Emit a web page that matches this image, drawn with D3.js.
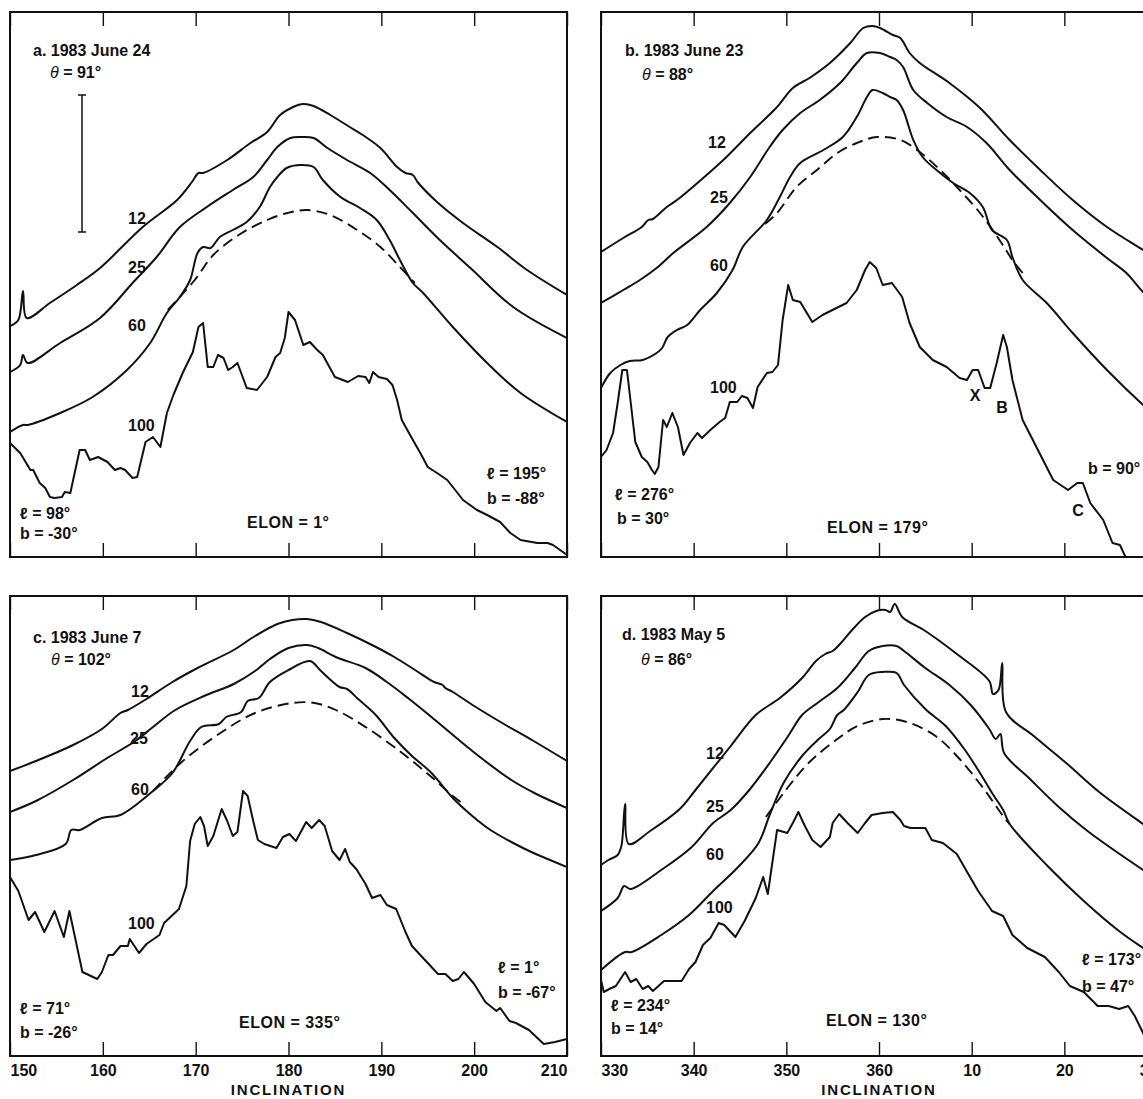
<!DOCTYPE html>
<html>
<head>
<meta charset="utf-8">
<script src="https://cdn.jsdelivr.net/npm/d3@7"></script>
<style>
  body { margin: 0; background: #fff; }
  svg { display: block; }
  text { font-family: "Liberation Sans", Arial, Helvetica, sans-serif; font-weight: bold; fill: #111; font-size: 16px; }
</style>
</head>
<body>
<div id="chart"></div>
<script>
// ---- data: [inclination (deg), relative brightness] ----
const a12 = [[150.0,231],[150.9,237],[151.4,266],[151.8,239],[154.3,254],[157.2,272],[159.7,289],[164.3,330],[168.0,357],[169.6,375],[170.3,384],[170.8,384],[173.4,397],[175.9,414],[177.7,425],[179.1,442],[180.5,450],[181.6,453],[182.7,451],[184.5,442],[186.6,430],[188.0,422],[189.9,409],[191.7,390],[192.6,384],[193.4,382],[193.9,375],[196.0,355],[198.8,334],[202.5,310],[205.7,287],[210.0,262]]
const a25 = [[150.0,185],[151.1,192],[151.4,202],[151.9,194],[155.4,214],[159.7,239],[163.3,275],[165.8,300],[168.3,330],[171.2,350],[174.0,367],[176.2,380],[177.7,397],[178.8,410],[180.2,419],[181.3,420],[182.7,419],[184.2,409],[186.3,397],[188.8,384],[190.9,367],[193.4,344],[196.3,317],[199.6,289],[204.2,250],[210.0,219]]
const a60 = [[150.0,125],[151.4,132],[151.9,132],[155.4,144],[158.9,160],[162.6,187],[165.1,214],[166.9,244],[168.3,260],[169.4,277],[170.2,304],[170.8,310],[171.6,309],[172.6,320],[174.0,327],[175.5,335],[176.9,350],[178.0,370],[178.8,380],[179.8,389],[181.3,392],[182.7,390],[183.7,377],[185.6,360],[187.7,349],[189.5,337],[190.9,317],[192.0,297],[193.4,274],[194.5,264],[197.7,230],[201.4,194],[205.0,164],[210.0,135]]
const aModel = [[167.0,247],[169.9,277],[171.9,302],[174.8,323],[177.7,337],[179.9,344],[182.0,347],[184.5,342],[187.4,327],[189.9,310],[192.0,290],[193.6,274]]
const a100 = [[150.0,114],[151.1,104],[152.2,87],[152.5,87],[153.2,74],[153.8,69],[154.3,60],[154.8,59],[155.6,60],[155.9,65],[156.5,64],[157.5,107],[158.1,107],[158.6,97],[159.5,100],[160.5,95],[161.3,87],[161.9,89],[162.4,87],[163.2,79],[163.7,80],[164.6,115],[165.4,120],[166.2,110],[166.9,144],[167.6,162],[168.6,184],[169.7,205],[170.3,230],[170.8,234],[171.3,190],[171.9,190],[172.4,202],[173.0,199],[173.5,187],[174.0,190],[174.5,194],[175.5,169],[176.6,167],[177.7,180],[178.6,200],[179.1,204],[179.6,219],[180.0,245],[180.7,237],[181.6,212],[182.3,215],[183.1,207],[183.7,202],[185.0,180],[186.4,175],[187.5,181],[188.3,180],[188.7,174],[189.1,185],[189.7,180],[190.6,178],[191.2,172],[191.7,157],[192.2,137],[193.4,117],[194.2,104],[195.0,90],[196.0,84],[197.1,77],[197.7,70],[198.8,57],[200.3,47],[201.4,42],[202.8,35],[203.9,24],[205.0,17],[206.8,14],[207.9,14],[208.5,12],[210.0,2]]

const b12 = [[330.0,305],[332.4,319],[334.4,330],[335.1,337],[335.6,338],[337.1,350],[338.2,357],[340.4,374],[343.2,397],[346.1,424],[349.0,450],[350.7,469],[352.5,479],[354.7,494],[356.9,514],[358.3,529],[359.3,531],[360.1,529],[361.5,522],[362.3,519],[363.3,504],[364.4,494],[367.6,474],[370.9,449],[374.1,417],[377.4,387],[380.9,357],[384.6,330],[388.5,307],[390.0,298]]
const b25 = [[330.0,254],[332.4,267],[334.2,277],[336.0,289],[337.8,304],[341.4,330],[343.9,354],[346.1,380],[348.2,410],[349.6,427],[351.5,444],[353.6,457],[355.8,474],[357.6,494],[358.7,504],[360.1,504],[361.2,500],[361.9,497],[362.6,490],[363.7,467],[365.2,454],[367.3,440],[369.5,430],[371.6,414],[374.1,387],[377.4,357],[380.9,327],[384.6,299],[386.7,284],[388.5,265],[390.0,255]]
const b60 = [[330.0,169],[331.0,184],[332.1,192],[333.1,196],[334.5,197],[336.0,204],[336.6,209],[337.2,220],[338.2,227],[339.3,232],[340.7,247],[342.5,264],[344.2,287],[345.3,310],[347.9,337],[349.3,360],[350.4,380],[351.5,394],[354.0,407],[356.1,420],[357.6,440],[358.7,460],[359.3,467],[360.4,464],[361.2,460],[361.9,457],[362.6,447],[363.7,417],[364.7,400],[366.6,384],[368.0,374],[369.8,364],[371.2,350],[372.2,327],[373.8,317],[374.4,300],[375.5,277],[378.1,254],[380.9,224],[384.6,187],[388.5,152],[390.0,140]]
const bModel = [[347.7,333],[349.0,344],[351.1,370],[353.3,387],[355.5,404],[357.6,414],[359.8,420],[362.3,417],[364.4,405],[366.6,387],[368.7,367],[370.9,344],[373.0,317],[374.4,297],[375.5,284]]
const b100 = [[330.0,100],[330.6,107],[331.3,124],[331.8,154],[332.3,187],[332.8,187],[333.3,147],[333.7,115],[334.4,100],[335.0,95],[335.5,87],[335.8,83],[336.2,90],[336.7,137],[337.1,130],[337.7,144],[338.3,130],[338.9,102],[339.6,114],[340.4,124],[340.9,119],[341.8,127],[342.8,135],[343.4,139],[343.9,155],[344.7,155],[345.2,161],[345.8,159],[346.4,149],[346.9,170],[347.9,184],[348.5,185],[349.1,192],[349.6,237],[350.2,272],[350.7,257],[351.5,255],[352.8,235],[353.9,242],[356.5,254],[357.6,267],[358.5,287],[359.0,295],[359.7,289],[360.4,272],[361.4,274],[362.5,260],[363.3,234],[364.4,210],[365.8,197],[367.3,190],[368.7,179],[369.5,177],[370.1,187],[370.7,187],[371.4,169],[372.0,169],[372.7,194],[373.4,222],[373.8,210],[374.4,177],[375.5,137],[376.6,117],[377.7,97],[378.8,77],[380.4,67],[381.4,74],[382.0,74],[382.8,54],[384.2,37],[385.2,14],[386.0,12],[386.6,0]]

const c12 = [[150.0,285],[152.8,295],[156.8,311],[159.9,327],[161.9,343],[162.7,346],[164.7,357],[167.5,374],[170.2,388],[174.1,406],[176.4,420],[178.8,432],[180.4,436],[182.0,437],[183.5,434],[186.3,423],[189.0,411],[191.4,399],[193.8,385],[195.7,374],[196.6,371],[196.9,368],[197.7,364],[200.0,350],[203.2,332],[206.4,315],[210.0,295]]
const c25 = [[150.0,244],[152.8,255],[156.8,276],[160.3,297],[163.5,315],[165.4,329],[167.8,346],[170.9,360],[174.1,372],[176.4,385],[178.0,397],[180.0,408],[182.0,411],[183.2,408],[185.1,399],[188.3,388],[190.6,374],[193.0,357],[195.4,339],[198.1,318],[200.9,297],[204.0,276],[206.7,262],[210.0,248]]
const c60 = [[150.0,196],[152.8,201],[156.0,212],[156.6,226],[157.5,226],[159.9,238],[161.9,241],[165.4,265],[167.5,283],[169.4,315],[170.6,329],[172.5,332],[173.3,339],[174.9,344],[175.6,355],[176.8,358],[178.0,374],[180.0,386],[182.3,395],[183.5,385],[185.5,369],[186.3,367],[187.5,357],[189.4,341],[191.4,318],[193.3,300],[195.4,283],[197.7,258],[199.8,240],[201.6,227],[204.0,214],[206.4,203],[210.0,189]]
const cModel = [[165.4,265],[168.5,294],[172.5,322],[176.4,343],[180.4,353],[182.8,353],[185.1,346],[188.3,329],[192.1,304],[195.4,279],[197.7,260],[198.7,253]]
const c100 = [[150.0,179],[150.9,165],[152.0,136],[152.7,144],[153.7,124],[154.8,145],[155.8,119],[156.4,145],[157.8,84],[159.4,77],[159.9,84],[160.6,101],[161.1,101],[161.9,110],[162.7,110],[162.9,117],[163.9,103],[164.7,112],[166.1,121],[166.6,133],[168.2,147],[169.0,170],[169.4,215],[169.9,232],[170.5,239],[170.9,230],[171.3,210],[171.9,220],[172.8,247],[173.4,235],[174.0,220],[174.5,224],[175.1,265],[175.6,260],[176.2,235],[176.7,216],[177.4,212],[178.7,208],[179.4,219],[180.1,222],[180.8,215],[181.9,234],[182.5,228],[183.3,236],[183.9,230],[184.7,205],[185.5,196],[186.1,207],[186.6,194],[187.3,187],[188.3,172],[189.0,158],[189.9,161],[190.6,151],[191.6,147],[192.6,124],[193.3,110],[194.9,94],[196.1,82],[196.9,82],[197.7,75],[198.3,77],[198.9,84],[200.0,72],[201.2,54],[202.4,45],[202.8,48],[203.8,35],[204.5,33],[205.9,26],[207.5,12],[208.7,14],[210.0,17]]

const d12 = [[330.0,191],[330.8,196],[331.8,201],[332.2,210],[332.6,252],[333.0,212],[335.3,225],[338.5,247],[340.2,266],[344.0,310],[346.7,341],[349.3,358],[351.7,378],[353.2,395],[354.2,402],[355.0,405],[355.8,412],[357.0,425],[358.5,439],[359.7,445],[360.7,446],[361.2,444],[361.7,452],[362.5,439],[365.0,425],[368.4,402],[371.9,375],[372.3,362],[372.9,366],[373.3,393],[373.7,344],[376.7,320],[380.2,293],[383.9,263],[388.5,232],[390.0,222]]
const d25 = [[330.0,145],[331.8,158],[332.5,170],[333.2,167],[336.5,186],[339.8,209],[342.1,233],[344.0,246],[346.0,266],[348.2,293],[350.2,320],[351.7,341],[353.5,354],[355.5,368],[357.4,388],[358.9,405],[360.4,410],[361.9,410],[362.7,405],[365.0,388],[367.6,371],[369.9,351],[371.9,327],[372.6,317],[373.1,322],[373.5,303],[376.4,276],[379.4,249],[382.5,225],[388.5,186],[390.0,177]]
const d60 = [[330.0,86],[332.6,104],[333.3,104],[336.5,121],[339.5,141],[342.1,165],[344.8,189],[347.0,213],[348.2,241],[349.7,273],[351.7,300],[353.5,317],[354.7,327],[355.5,341],[356.2,346],[357.7,364],[358.9,381],[360.4,384],[361.9,383],[362.7,371],[365.0,347],[367.2,330],[369.2,307],[370.7,286],[372.2,263],[373.4,246],[374.1,232],[378.3,189],[382.1,155],[385.9,125],[388.5,108],[390.0,99]]
const dModel = [[347.8,239],[350.2,269],[352.4,293],[355.5,317],[357.7,330],[360.4,337],[363.0,334],[366.1,320],[368.7,297],[371.4,266],[373.7,236],[374.1,232]]
const d100 = [[330.0,76],[330.3,64],[330.9,67],[331.6,70],[332.6,84],[333.2,74],[333.8,77],[334.5,67],[335.1,70],[335.6,65],[336.8,75],[338.7,75],[339.5,87],[340.2,94],[341.0,111],[341.8,118],[342.7,133],[343.3,131],[344.5,119],[345.5,135],[346.7,158],[347.5,179],[348.0,162],[349.0,226],[350.1,223],[350.7,233],[351.3,244],[352.0,230],[352.8,216],[353.7,209],[354.7,219],[355.0,233],[355.7,242],[356.6,233],[357.7,223],[358.5,233],[359.2,241],[360.4,243],[361.5,244],[362.3,236],[362.7,230],[363.4,228],[365.0,228],[365.7,216],[366.9,213],[368.4,202],[369.2,189],[370.7,165],[372.2,145],[373.4,140],[374.4,121],[376.0,108],[377.9,99],[379.4,84],[380.6,70],[382.1,64],[383.6,50],[384.8,50],[385.9,47],[386.9,50],[387.6,40],[388.5,23],[389.0,10]]

// ---- labels ----
const ticksLeft = [150, 160, 170, 180, 190, 200, 210]
const ticksRight = [330, 340, 350, 360, 370, 380, 390]
const tickLabelsLeft = ["150", "160", "170", "180", "190", "200", "210"]
const tickLabelsRight = ["330", "340", "350", "360", "10", "20", "30"]
const curveNames = ["12", "25", "60", "100"]
const titles = ["a. 1983 June 24", "b. 1983 June 23", "c. 1983 June 7", "d. 1983 May 5"]
const thetas = ["91°", "88°", "102°", "86°"]
const elons = ["1°", "179°", "335°", "130°"]
const lStart = ["98°", "276°", "71°", "234°"]
const bStart = ["-30°", "30°", "-26°", "14°"]
const lEnd = ["195°", null, "1°", "173°"]
const bEnd = ["-88°", "90°", "-67°", "47°"]
const marksB = ["X", "B", "C"]
const axisTitle = "INCLINATION"

// ---- layout ----
const W = 1143, H = 1099
const cols = [{ left: 10, right: 567 }, { left: 601, right: 1157 }]
const rows = [{ top: 12, bottom: 557, yMax: 545 }, { top: 596, bottom: 1056, yMax: 460 }]

// label offsets relative to each panel's top-left corner
const notes = [
  { title: [23, 38], theta: [40, 60], curve: [[118, 206], [118, 255], [118, 313], [118, 413]], lS: [10, 501], bS: [10, 521], elon: [237, 510], lE: [477, 461], bE: [477, 486] },
  { title: [24, 38], theta: [41, 62], curve: [[107, 130], [109, 185], [109, 253], [109, 375]], lS: [14, 482], bS: [16, 506], elon: [226, 515], lE: null, bE: [487, 456], marks: [[374, 383], [401, 395], [477, 498]] },
  { title: [23, 41], theta: [41, 63], curve: [[121, 95], [120, 142], [121, 193], [118, 327]], lS: [10, 412], bS: [10, 436], elon: [229, 426], lE: [488, 371], bE: [488, 396] },
  { title: [21, 38], theta: [40, 63], curve: [[105, 157], [105, 210], [105, 258], [105, 311]], lS: [10, 409], bS: [10, 432], elon: [225, 424], lE: [481, 363], bE: [481, 390] }
]

const panels = [
  { id: "a", col: 0, row: 0, domain: [150, 210], ticks: ticksLeft, labels: null, curves: [a12, a25, a60, a100], model: aModel, scaleBar: true },
  { id: "b", col: 1, row: 0, domain: [330, 390], ticks: ticksRight, labels: null, curves: [b12, b25, b60, b100], model: bModel },
  { id: "c", col: 0, row: 1, domain: [150, 210], ticks: ticksLeft, labels: tickLabelsLeft, curves: [c12, c25, c60, c100], model: cModel },
  { id: "d", col: 1, row: 1, domain: [330, 390], ticks: ticksRight, labels: tickLabelsRight, curves: [d12, d25, d60, d100], model: dModel }
]

const svg = d3.select("#chart").append("svg")
    .attr("width", W)
    .attr("height", H)

svg.append("rect").attr("width", W).attr("height", H).attr("fill", "#fff")

function Panel(p, i) {
    const c = cols[p.col], r = rows[p.row], n = notes[i]

    const xScale = d3.scaleLinear().domain(p.domain).range([c.left, c.right])
    const yScale = d3.scaleLinear().domain([0, r.yMax]).range([r.bottom, r.top])

    const g = svg.append("g").attr("class", "panel-" + p.id)

    g.append("clipPath")
        .attr("id", "clip-" + p.id)
        .append("rect")
        .attr("x", c.left).attr("y", r.top)
        .attr("width", c.right - c.left).attr("height", r.bottom - r.top)

    const plot = g.append("g").attr("clip-path", `url(#clip-${p.id})`)

    const smooth = d3.line()
        .x(d => xScale(d[0]))
        .y(d => yScale(d[1]))
        .curve(d3.curveCatmullRom.alpha(0.5))

    const rough = d3.line()
        .x(d => xScale(d[0]))
        .y(d => yScale(d[1]))

    plot.selectAll(".curve")
        .data(p.curves)
        .join("path")
        .attr("class", "curve")
        .attr("d", (d, k) => k === 3 ? rough(d) : smooth(d))
        .attr("fill", "none")
        .attr("stroke", "#111")
        .attr("stroke-width", 2)
        .attr("stroke-linejoin", "round")

    plot.append("path")
        .attr("d", smooth(p.model))
        .attr("fill", "none")
        .attr("stroke", "#111")
        .attr("stroke-width", 1.9)
        .attr("stroke-dasharray", "11,6")

    // frame
    g.append("rect")
        .attr("x", c.left).attr("y", r.top)
        .attr("width", c.right - c.left).attr("height", r.bottom - r.top)
        .attr("fill", "none")
        .attr("stroke", "#111")
        .attr("stroke-width", 2)

    // inward ticks top and bottom
    const topAxis = d3.axisTop(xScale).tickValues(p.ticks).tickSizeInner(-14).tickSizeOuter(0).tickFormat("")
    const botAxis = d3.axisBottom(xScale).tickValues(p.ticks).tickSizeInner(-14).tickSizeOuter(0).tickPadding(9)
        .tickFormat((d, k) => p.labels ? p.labels[k] : "")

    g.append("g").attr("transform", `translate(0,${r.top})`).call(topAxis)
        .call(s => s.select(".domain").remove())
    const xGroup = g.append("g").attr("transform", `translate(0,${r.bottom})`).call(botAxis)
        .call(s => s.select(".domain").remove())
    g.selectAll(".tick line").attr("stroke", "#111").attr("stroke-width", 1.4)
    xGroup.selectAll(".tick text")
        .style("font-size", "16px")
        .attr("text-anchor", (d, k) => k === 0 ? "start" : (k === p.ticks.length - 1 ? "end" : "middle"))

    if (p.labels) {
        g.append("text")
            .attr("x", xScale((p.domain[0] + p.domain[1]) / 2))
            .attr("y", r.bottom + 34)
            .attr("dy", "0.35em")
            .attr("text-anchor", "middle")
            .style("font-size", "15px")
            .style("letter-spacing", "1.8px")
            .text(axisTitle)
    }

    const put = (pos, txt) => g.append("text")
        .attr("x", c.left + pos[0]).attr("y", r.top + pos[1])
        .attr("dy", "0.35em")
        .text(txt)

    put(n.title, titles[i])
    const th = put(n.theta, "")
    th.append("tspan").style("font-style", "italic").style("font-weight", "normal").text("θ")
    th.append("tspan").text(" = " + thetas[i])

    curveNames.forEach((nm, k) => put(n.curve[k], nm))

    put(n.lS, "ℓ = " + lStart[i])
    put(n.bS, "b = " + bStart[i])
    put(n.elon, "ELON = " + elons[i]).style("letter-spacing", "0.5px")
    if (lEnd[i] && n.lE) put(n.lE, "ℓ = " + lEnd[i])
    if (n.bE) put(n.bE, "b = " + bEnd[i])

    if (n.marks) {
        marksB.forEach((m, k) => put(n.marks[k], m).attr("text-anchor", "middle"))
    }

    if (p.scaleBar) {
        const sx = c.left + 72, y0 = r.top + 83, y1 = r.top + 220
        const bar = g.append("g").attr("stroke", "#111").attr("stroke-width", 1.5)
        bar.append("line").attr("x1", sx).attr("x2", sx).attr("y1", y0).attr("y2", y1)
        bar.append("line").attr("x1", sx - 4).attr("x2", sx + 4).attr("y1", y0).attr("y2", y0)
        bar.append("line").attr("x1", sx - 4).attr("x2", sx + 4).attr("y1", y1).attr("y2", y1)
    }
}

panels.forEach(Panel)
</script>
</body>
</html>
